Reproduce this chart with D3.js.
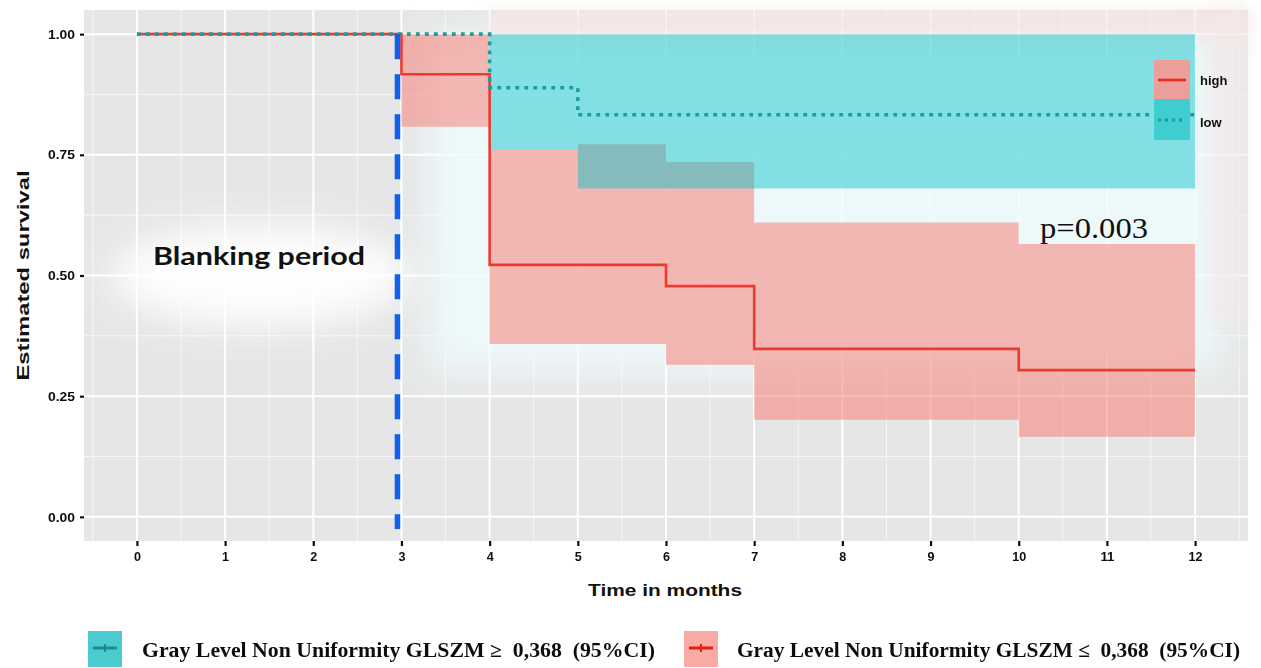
<!DOCTYPE html>
<html>
<head>
<meta charset="utf-8">
<script src="https://cdn.jsdelivr.net/npm/d3@7"></script>
<style>
  html, body { margin: 0; padding: 0; background: #ffffff; }
  svg { display: block; }
</style>
</head>
<body>
<svg id="chart" width="1261" height="668"></svg>
<script>
// Kaplan-Meier estimates, 95% CI bands, and tick labels
const monthTicks = [0, 1, 2, 3, 4, 5, 6, 7, 8, 9, 10, 11, 12];
const survTicks = [0, 0.25, 0.5, 0.75, 1];

const lowTime = [0, 4, 5, 12];
const lowSurv = [1.0, 0.889, 0.833, 0.833];
const lowCITime = [4, 5, 12];
const lowUpper = [1.0, 1.0, 1.0];
const lowLower = [0.76, 0.68, 0.68];

const highTime = [0, 3, 4, 6, 7, 10, 12];
const highSurv = [1.0, 0.917, 0.522, 0.478, 0.348, 0.304, 0.304];
const highCITime = [3, 4, 5, 6, 7, 10, 12];
const highUpper = [1.0, 0.76, 0.772, 0.735, 0.61, 0.565, 0.565];
const highLower = [0.808, 0.358, 0.358, 0.315, 0.201, 0.166, 0.166];

const groupNames = ["high", "low"];
const blankingEnd = 3;
const pValueText = "p=0.003";
const cutoffText = "0,368";

const svg = d3.select("#chart");
const defs = svg.append("defs");
defs.append("filter").attr("id", "hazeBig").attr("x", "-50%").attr("y", "-50%").attr("width", "200%").attr("height", "200%")
  .append("feGaussianBlur").attr("stdDeviation", 18);
defs.append("filter").attr("id", "hazeSmall").attr("x", "-50%").attr("y", "-50%").attr("width", "200%").attr("height", "200%")
  .append("feGaussianBlur").attr("stdDeviation", 8);
defs.append("filter").attr("id", "soft")
  .append("feGaussianBlur").attr("stdDeviation", 0.6);

const x = d3.scaleLinear().domain([-0.6, 12.6]).range([84, 1248]);
const y = d3.scaleLinear().domain([-0.05, 1.05]).range([541, 10]);

const plot = svg.append("g").attr("filter", "url(#soft)");

// panel background
plot.append("rect")
  .attr("x", x(-0.6)).attr("y", y(1.05))
  .attr("width", x(12.6) - x(-0.6)).attr("height", y(-0.05) - y(1.05))
  .attr("fill", "#e6e6e6");

// grid lines (minor then major)
const minorX = d3.range(-0.5, 12.6, 1);
const minorY = [0.125, 0.375, 0.625, 0.875];
const grid = plot.append("g");
grid.selectAll(".mx").data(minorX).join("line")
  .attr("x1", d => x(d)).attr("x2", d => x(d))
  .attr("y1", y(1.05)).attr("y2", y(-0.05))
  .attr("stroke", "#f6f6f6").attr("stroke-width", 1);
grid.selectAll(".my").data(minorY).join("line")
  .attr("y1", d => y(d)).attr("y2", d => y(d))
  .attr("x1", x(-0.6)).attr("x2", x(12.6))
  .attr("stroke", "#f6f6f6").attr("stroke-width", 1);
grid.selectAll(".Mx").data(monthTicks).join("line")
  .attr("x1", d => x(d)).attr("x2", d => x(d))
  .attr("y1", y(1.05)).attr("y2", y(-0.05))
  .attr("stroke", "#ffffff").attr("stroke-width", 2);
grid.selectAll(".My").data(survTicks).join("line")
  .attr("y1", d => y(d)).attr("y2", d => y(d))
  .attr("x1", x(-0.6)).attr("x2", x(12.6))
  .attr("stroke", "#ffffff").attr("stroke-width", 2);

// soft glow across the follow-up region and behind the annotation
const haze = plot.append("g");
haze.append("rect")
  .attr("x", x(3.3)).attr("y", y(1.0))
  .attr("width", x(12.3) - x(3.3)).attr("height", y(0.3) - y(1.0))
  .attr("fill", "#effcfd").attr("opacity", 0.85).attr("filter", "url(#hazeBig)");
haze.append("rect")
  .attr("x", x(4)).attr("y", y(1.05))
  .attr("width", x(12.6) - x(4)).attr("height", y(1.0) - y(1.05))
  .attr("fill", "#fbe4e4").attr("opacity", 0.8).attr("filter", "url(#hazeSmall)");
haze.append("rect")
  .attr("x", x(12.2)).attr("y", y(1.05))
  .attr("width", x(12.6) - x(12.2)).attr("height", y(0.4) - y(1.05))
  .attr("fill", "#f4e9e9").attr("opacity", 0.7).attr("filter", "url(#hazeSmall)");
haze.append("ellipse")
  .attr("cx", x(1.4)).attr("cy", y(0.5))
  .attr("rx", 150).attr("ry", 50)
  .attr("fill", "#ffffff").attr("opacity", 0.95).attr("filter", "url(#hazeBig)");

// confidence bands
const band = (times, upper, lower) => d3.area()
  .curve(d3.curveStepAfter)
  .x((d, i) => x(times[i]))
  .y0((d, i) => y(lower[i]))
  .y1((d, i) => y(upper[i]));

plot.append("path")
  .attr("d", band(highCITime, highUpper, highLower)(highCITime))
  .attr("fill", "#F8766D").attr("fill-opacity", 0.5);
plot.append("path")
  .attr("d", band(lowCITime, lowUpper, lowLower)(lowCITime))
  .attr("fill", "#00C2C8").attr("fill-opacity", 0.45);

// survival curves
const step = (times, vals) => d3.line()
  .curve(d3.curveStepAfter)
  .x((d, i) => x(times[i]))
  .y((d, i) => y(vals[i]));

plot.append("path")
  .attr("d", step(highTime, highSurv)(highTime))
  .attr("fill", "none").attr("stroke", "#ec3a2d").attr("stroke-width", 2.6);
plot.append("path")
  .attr("d", step(lowTime, lowSurv)(lowTime))
  .attr("fill", "none").attr("stroke", "#159f9f").attr("stroke-width", 3.6)
  .attr("stroke-dasharray", "3.8,5.2");

// end of blanking period
plot.append("line")
  .attr("x1", x(blankingEnd) - 4).attr("x2", x(blankingEnd) - 4)
  .attr("y1", y(1.0)).attr("y2", y(-0.025))
  .attr("stroke", "#0b62ee").attr("stroke-width", 5.5)
  .attr("stroke-dasharray", "25,15");

// in-panel legend
const lg = plot.append("g");
lg.append("rect").attr("x", 1154).attr("y", 60).attr("width", 36).attr("height", 39)
  .attr("fill", "#ec9f9a");
lg.append("line").attr("x1", 1158).attr("x2", 1186).attr("y1", 80).attr("y2", 80)
  .attr("stroke", "#ec2f22").attr("stroke-width", 2.8);
lg.append("rect").attr("x", 1154).attr("y", 99).attr("width", 36).attr("height", 41)
  .attr("fill", "#3fcdd0");
lg.append("line").attr("x1", 1158).attr("x2", 1186).attr("y1", 120).attr("y2", 120)
  .attr("stroke", "#159f9f").attr("stroke-width", 3).attr("stroke-dasharray", "3,4");
lg.selectAll("text").data(groupNames).join("text")
  .attr("x", 1200).attr("y", (d, i) => i === 0 ? 85 : 127)
  .attr("font-family", "Liberation Sans, Arial, sans-serif").attr("font-weight", "bold")
  .attr("font-size", 13).attr("fill", "#111")
  .text(d => d);

// axes
const yAxis = d3.axisLeft(y).tickValues(survTicks).tickFormat(d3.format(".2f")).tickSize(4).tickPadding(5);
const yg = svg.append("g").attr("transform", `translate(${x(-0.6)},0)`).call(yAxis);
const xAxis = d3.axisBottom(x).tickValues(monthTicks).tickFormat(d3.format("d")).tickSize(5).tickPadding(6);
const xg = svg.append("g").attr("transform", `translate(0,${y(-0.05)})`).call(xAxis);
[yg, xg].forEach(g => {
  g.attr("filter", "url(#soft)");
  g.select(".domain").remove();
  g.selectAll(".tick line").attr("stroke", "#111").attr("stroke-width", 2.2);
  g.selectAll(".tick text")
    .attr("font-family", "Liberation Sans, Arial, sans-serif").attr("font-weight", "bold")
    .attr("font-size", 13).attr("fill", "#111");
});
yg.selectAll(".tick text").attr("textLength", 27).attr("lengthAdjust", "spacingAndGlyphs");
xg.selectAll(".tick text").attr("textLength", d => d >= 10 ? 14 : 7).attr("lengthAdjust", "spacingAndGlyphs");

// axis titles
svg.append("text")
  .attr("x", 665).attr("y", 596).attr("text-anchor", "middle")
  .attr("font-family", "Liberation Sans, Arial, sans-serif").attr("font-weight", "bold")
  .attr("font-size", 17).attr("fill", "#111")
  .attr("textLength", 154).attr("lengthAdjust", "spacingAndGlyphs")
  .text("Time in months");
svg.append("text")
  .attr("transform", `translate(29,${y(0.5)}) rotate(-90)`)
  .attr("text-anchor", "middle")
  .attr("font-family", "Liberation Sans, Arial, sans-serif").attr("font-weight", "bold")
  .attr("font-size", 17).attr("fill", "#111")
  .attr("textLength", 210).attr("lengthAdjust", "spacingAndGlyphs")
  .text("Estimated survival");

// annotations
svg.append("text")
  .attr("x", 153).attr("y", 265)
  .attr("font-family", "Lato, 'Open Sans', sans-serif").attr("font-weight", "bold")
  .attr("font-size", 25).attr("fill", "#111")
  .attr("textLength", 212).attr("lengthAdjust", "spacingAndGlyphs")
  .text("Blanking period");
svg.append("text")
  .attr("x", 1040).attr("y", 238)
  .attr("font-family", "Liberation Serif, 'Times New Roman', serif")
  .attr("font-size", 30).attr("fill", "#111")
  .attr("textLength", 108).attr("lengthAdjust", "spacingAndGlyphs")
  .text(pValueText);

// bottom legend
const legendItems = [
  { sym: "≥", fill: "#4ccbcf", line: "#1b8c8d", x: 88, tx: 142, w: 513 },
  { sym: "≤", fill: "#f8aaa4", line: "#e81e14", x: 684, tx: 737, w: 503 }
];
const bl = svg.append("g").attr("filter", "url(#soft)");
legendItems.forEach(it => {
  bl.append("rect").attr("x", it.x).attr("y", 631).attr("width", 34).attr("height", 36).attr("fill", it.fill);
  bl.append("line").attr("x1", it.x + 5).attr("x2", it.x + 29).attr("y1", 648).attr("y2", 648)
    .attr("stroke", it.line).attr("stroke-width", 3);
  bl.append("line").attr("x1", it.x + 17).attr("x2", it.x + 17).attr("y1", 644).attr("y2", 652)
    .attr("stroke", it.line).attr("stroke-width", 2);
  const t = bl.append("text")
    .attr("x", it.tx).attr("y", 657)
    .attr("font-family", "Liberation Serif, 'Times New Roman', serif").attr("font-weight", "bold")
    .attr("font-size", 20).attr("fill", "#111")
    .attr("textLength", it.w).attr("lengthAdjust", "spacingAndGlyphs");
  t.append("tspan").text(`Gray Level Non Uniformity GLSZM ${it.sym}\u00a0\u00a0`);
  t.append("tspan").text(cutoffText);
  t.append("tspan").text("\u00a0\u00a0(95%CI)");
});
</script>
</body>
</html>
